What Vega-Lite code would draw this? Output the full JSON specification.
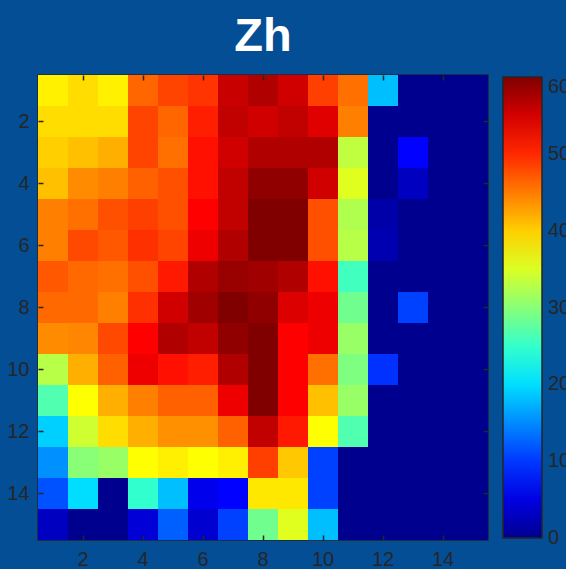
{
  "$schema": "https://vega.github.io/schema/vega-lite/v6.json",
  "autosize": "none",
  "padding": {"left": 38, "top": 75, "right": 78, "bottom": 29},
  "width": 450,
  "height": 465,
  "background": "#034E94",
  "title": {"text": "Zh", "fontSize": 47, "fontWeight": "bold", "font": "Liberation Sans", "color": "white", "anchor": "middle", "baseline": "alphabetic", "offset": -24, "frame": "group"},
  "config": {
    "view": {"stroke": "#262626", "strokeWidth": 1.5},
    "axis": {"labelFont": "Liberation Sans", "labelFontSize": 20, "labelColor": "#262626", "domain": false, "grid": false, "title": null, "labelAngle": 0}
  },
  "data": {"values": [
    {"row":1,"col":1,"value":38.0},{"row":1,"col":2,"value":39.2},{"row":1,"col":3,"value":38.0},{"row":1,"col":4,"value":46.3},{"row":1,"col":5,"value":48.3},{"row":1,"col":6,"value":49.3},{"row":1,"col":7,"value":55.7},{"row":1,"col":8,"value":57.1},{"row":1,"col":9,"value":55.2},{"row":1,"col":10,"value":48.6},{"row":1,"col":11,"value":45.7},{"row":1,"col":12,"value":18.1},{"row":1,"col":13,"value":0},{"row":1,"col":14,"value":0},{"row":1,"col":15,"value":0},
    {"row":2,"col":1,"value":39.2},{"row":2,"col":2,"value":39.2},{"row":2,"col":3,"value":39.2},{"row":2,"col":4,"value":48.3},{"row":2,"col":5,"value":46.3},{"row":2,"col":6,"value":50.5},{"row":2,"col":7,"value":56.1},{"row":2,"col":8,"value":55.2},{"row":2,"col":9,"value":56.1},{"row":2,"col":10,"value":54.2},{"row":2,"col":11,"value":44.8},{"row":2,"col":12,"value":0},{"row":2,"col":13,"value":0},{"row":2,"col":14,"value":0},{"row":2,"col":15,"value":0},
    {"row":3,"col":1,"value":40.0},{"row":3,"col":2,"value":40.9},{"row":3,"col":3,"value":41.9},{"row":3,"col":4,"value":48.3},{"row":3,"col":5,"value":45.7},{"row":3,"col":6,"value":51.4},{"row":3,"col":7,"value":55.2},{"row":3,"col":8,"value":57.1},{"row":3,"col":9,"value":57.1},{"row":3,"col":10,"value":57.1},{"row":3,"col":11,"value":33.3},{"row":3,"col":12,"value":0},{"row":3,"col":13,"value":6.7},{"row":3,"col":14,"value":0},{"row":3,"col":15,"value":0},
    {"row":4,"col":1,"value":40.9},{"row":4,"col":2,"value":44.0},{"row":4,"col":3,"value":44.8},{"row":4,"col":4,"value":46.6},{"row":4,"col":5,"value":47.6},{"row":4,"col":6,"value":51.4},{"row":4,"col":7,"value":56.1},{"row":4,"col":8,"value":59.0},{"row":4,"col":9,"value":59.0},{"row":4,"col":10,"value":55.2},{"row":4,"col":11,"value":35.3},{"row":4,"col":12,"value":0},{"row":4,"col":13,"value":2.9},{"row":4,"col":14,"value":0},{"row":4,"col":15,"value":0},
    {"row":5,"col":1,"value":44.8},{"row":5,"col":2,"value":45.7},{"row":5,"col":3,"value":47.6},{"row":5,"col":4,"value":48.6},{"row":5,"col":5,"value":47.6},{"row":5,"col":6,"value":52.4},{"row":5,"col":7,"value":56.1},{"row":5,"col":8,"value":60},{"row":5,"col":9,"value":60},{"row":5,"col":10,"value":47.6},{"row":5,"col":11,"value":32.4},{"row":5,"col":12,"value":1.5},{"row":5,"col":13,"value":0},{"row":5,"col":14,"value":0},{"row":5,"col":15,"value":0},
    {"row":6,"col":1,"value":44.8},{"row":6,"col":2,"value":48.1},{"row":6,"col":3,"value":47.1},{"row":6,"col":4,"value":49.5},{"row":6,"col":5,"value":48.3},{"row":6,"col":6,"value":53.4},{"row":6,"col":7,"value":57.1},{"row":6,"col":8,"value":60},{"row":6,"col":9,"value":60},{"row":6,"col":10,"value":47.6},{"row":6,"col":11,"value":32.9},{"row":6,"col":12,"value":2.0},{"row":6,"col":13,"value":0},{"row":6,"col":14,"value":0},{"row":6,"col":15,"value":0},
    {"row":7,"col":1,"value":47.1},{"row":7,"col":2,"value":46.1},{"row":7,"col":3,"value":45.7},{"row":7,"col":4,"value":47.6},{"row":7,"col":5,"value":50.9},{"row":7,"col":6,"value":57.1},{"row":7,"col":7,"value":58.5},{"row":7,"col":8,"value":58.1},{"row":7,"col":9,"value":57.1},{"row":7,"col":10,"value":51.4},{"row":7,"col":11,"value":25.7},{"row":7,"col":12,"value":0},{"row":7,"col":13,"value":0},{"row":7,"col":14,"value":0},{"row":7,"col":15,"value":0},
    {"row":8,"col":1,"value":46.1},{"row":8,"col":2,"value":46.1},{"row":8,"col":3,"value":44.8},{"row":8,"col":4,"value":49.5},{"row":8,"col":5,"value":55.2},{"row":8,"col":6,"value":58.1},{"row":8,"col":7,"value":60},{"row":8,"col":8,"value":59.0},{"row":8,"col":9,"value":54.4},{"row":8,"col":10,"value":53.4},{"row":8,"col":11,"value":28.6},{"row":8,"col":12,"value":0},{"row":8,"col":13,"value":10.5},{"row":8,"col":14,"value":0},{"row":8,"col":15,"value":0},
    {"row":9,"col":1,"value":44.0},{"row":9,"col":2,"value":44.4},{"row":9,"col":3,"value":48.1},{"row":9,"col":4,"value":52.4},{"row":9,"col":5,"value":57.1},{"row":9,"col":6,"value":56.1},{"row":9,"col":7,"value":59.0},{"row":9,"col":8,"value":60},{"row":9,"col":9,"value":52.4},{"row":9,"col":10,"value":53.4},{"row":9,"col":11,"value":31.0},{"row":9,"col":12,"value":0},{"row":9,"col":13,"value":0},{"row":9,"col":14,"value":0},{"row":9,"col":15,"value":0},
    {"row":10,"col":1,"value":32.9},{"row":10,"col":2,"value":41.9},{"row":10,"col":3,"value":46.6},{"row":10,"col":4,"value":53.4},{"row":10,"col":5,"value":51.4},{"row":10,"col":6,"value":50.5},{"row":10,"col":7,"value":57.1},{"row":10,"col":8,"value":60},{"row":10,"col":9,"value":52.4},{"row":10,"col":10,"value":45.7},{"row":10,"col":11,"value":29.5},{"row":10,"col":12,"value":9.6},{"row":10,"col":13,"value":0},{"row":10,"col":14,"value":0},{"row":10,"col":15,"value":0},
    {"row":11,"col":1,"value":26.7},{"row":11,"col":2,"value":37.1},{"row":11,"col":3,"value":41.9},{"row":11,"col":4,"value":44.8},{"row":11,"col":5,"value":46.6},{"row":11,"col":6,"value":46.6},{"row":11,"col":7,"value":53.4},{"row":11,"col":8,"value":60},{"row":11,"col":9,"value":52.4},{"row":11,"col":10,"value":40.9},{"row":11,"col":11,"value":31.0},{"row":11,"col":12,"value":0},{"row":11,"col":13,"value":0},{"row":11,"col":14,"value":0},{"row":11,"col":15,"value":0},
    {"row":12,"col":1,"value":19.1},{"row":12,"col":2,"value":34.3},{"row":12,"col":3,"value":39.2},{"row":12,"col":4,"value":41.9},{"row":12,"col":5,"value":43.8},{"row":12,"col":6,"value":43.8},{"row":12,"col":7,"value":46.6},{"row":12,"col":8,"value":56.1},{"row":12,"col":9,"value":50.9},{"row":12,"col":10,"value":37.1},{"row":12,"col":11,"value":26.7},{"row":12,"col":12,"value":0},{"row":12,"col":13,"value":0},{"row":12,"col":14,"value":0},{"row":12,"col":15,"value":0},
    {"row":13,"col":1,"value":15.3},{"row":13,"col":2,"value":30.0},{"row":13,"col":3,"value":31.0},{"row":13,"col":4,"value":37.1},{"row":13,"col":5,"value":38.1},{"row":13,"col":6,"value":37.1},{"row":13,"col":7,"value":38.1},{"row":13,"col":8,"value":48.6},{"row":13,"col":9,"value":40.4},{"row":13,"col":10,"value":10.5},{"row":13,"col":11,"value":0},{"row":13,"col":12,"value":0},{"row":13,"col":13,"value":0},{"row":13,"col":14,"value":0},{"row":13,"col":15,"value":0},
    {"row":14,"col":1,"value":11.5},{"row":14,"col":2,"value":19.9},{"row":14,"col":3,"value":0},{"row":14,"col":4,"value":24.8},{"row":14,"col":5,"value":18.1},{"row":14,"col":6,"value":5.6},{"row":14,"col":7,"value":6.7},{"row":14,"col":8,"value":38.5},{"row":14,"col":9,"value":38.5},{"row":14,"col":10,"value":10.5},{"row":14,"col":11,"value":0},{"row":14,"col":12,"value":0},{"row":14,"col":13,"value":0},{"row":14,"col":14,"value":0},{"row":14,"col":15,"value":0},
    {"row":15,"col":1,"value":2.9},{"row":15,"col":2,"value":0},{"row":15,"col":3,"value":0},{"row":15,"col":4,"value":4.3},{"row":15,"col":5,"value":12.4},{"row":15,"col":6,"value":3.9},{"row":15,"col":7,"value":10.5},{"row":15,"col":8,"value":28.6},{"row":15,"col":9,"value":35.3},{"row":15,"col":10,"value":18.1},{"row":15,"col":11,"value":0},{"row":15,"col":12,"value":0},{"row":15,"col":13,"value":0},{"row":15,"col":14,"value":0},{"row":15,"col":15,"value":0}
  ]},
  "layer": [
    {
      "mark": {"type": "rect"},
      "encoding": {
        "x": {"field": "col", "type": "ordinal", "scale": {"paddingInner": 0, "paddingOuter": 0}, "axis": {"orient": "bottom", "values": [2,4,6,8,10,12,14], "labelPadding": 9, "ticks": true, "tickColor": "#262626", "tickWidth": 1.5, "tickSize": 5, "offset": -5, "zindex": 3}},
        "y": {"field": "row", "type": "ordinal", "scale": {"paddingInner": 0, "paddingOuter": 0}, "axis": {"orient": "left", "values": [2,4,6,8,10,12,14], "labelPadding": 9, "ticks": true, "tickColor": "#262626", "tickWidth": 1.5, "tickSize": 5, "offset": -5, "zindex": 3}},
        "color": {"field": "value", "type": "quantitative",
          "scale": {"domain": [0, 6.67, 21.9, 37.14, 52.38, 60], "range": ["#00008F", "#0000FF", "#00FFFF", "#FFFF00", "#FF0000", "#800000"], "interpolate": "rgb", "clamp": true},
          "legend": {"orient": "none", "legendX": 465, "legendY": 2, "direction": "vertical", "gradientLength": 461, "gradientThickness": 39, "gradientStrokeColor": "#262626", "gradientStrokeWidth": 1.5, "values": [0,10,20,30,40,50,60], "labelFont": "Liberation Sans", "labelFontSize": 20, "labelColor": "#262626", "labelOffset": 6, "title": null,
            "labelExpr": "datum.label",
            "encode": {"labels": {"update": {"baseline": {"signal": "datum.value >= 60 ? 'top' : 'middle'"}}}}}
        }
      }
    },
    {
      "mark": {"type": "rect", "opacity": 0},
      "encoding": {
        "x": {"field": "col", "type": "ordinal", "axis": {"orient": "top", "values": [2,4,6,8,10,12,14], "labels": false, "ticks": true, "tickColor": "#262626", "tickWidth": 1.5, "tickSize": 5, "offset": -5, "zindex": 3}},
        "y": {"field": "row", "type": "ordinal", "axis": {"orient": "right", "values": [2,4,6,8,10,12,14], "labels": false, "ticks": true, "tickColor": "#262626", "tickWidth": 1.5, "tickSize": 5, "offset": -5, "zindex": 3}}
      }
    }
  ],
  "resolve": {"axis": {"x": "independent", "y": "independent"}}
}
